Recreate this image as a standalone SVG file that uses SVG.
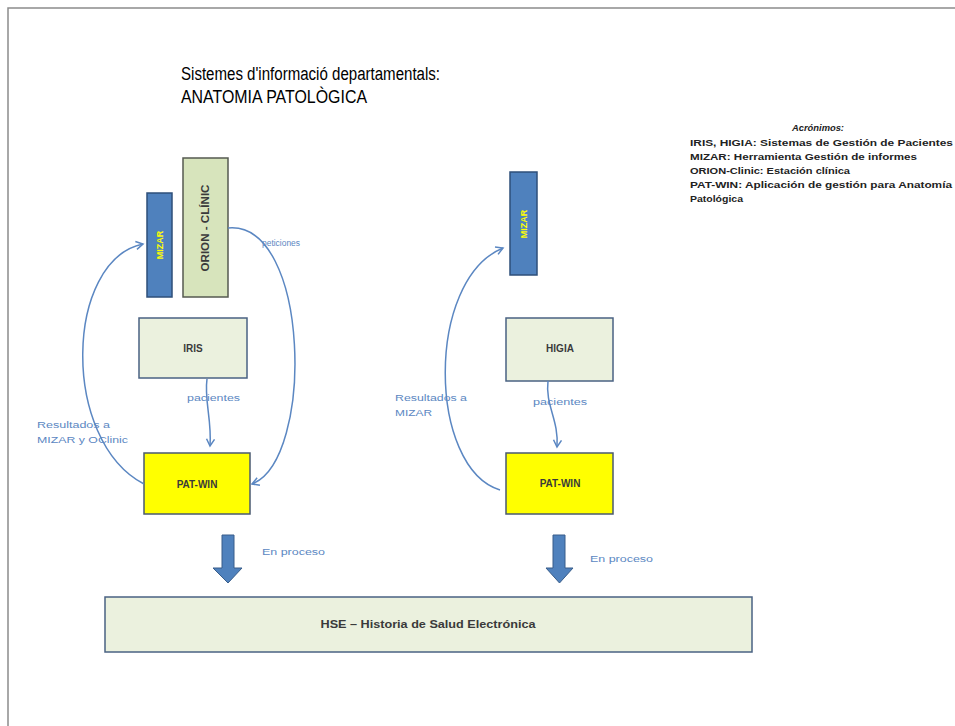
<svg xmlns="http://www.w3.org/2000/svg" width="955" height="726" viewBox="0 0 955 726">
<style>
.frame{stroke:#8c8c8c;stroke-width:1.5;fill:none}
.title{font-family:"Liberation Sans",Arial,sans-serif;font-size:18px;fill:#000}
.mizar rect{fill:#4f81bd;stroke:#2e4f7a;stroke-width:1.5}
.mizar text{font-family:"Liberation Sans",Arial,sans-serif;font-weight:bold;font-size:9px;fill:#ffff00}
.orion rect{fill:#d7e4bc;stroke:#555a50;stroke-width:1.5}
.box rect{fill:#ebf1de;stroke:#4a6283;stroke-width:1.5}
.pat rect{fill:#ffff00;stroke:#4a5a70;stroke-width:1.5}
.lbl{font-family:"Liberation Sans",Arial,sans-serif;font-weight:bold;font-size:10px;fill:#3a3a3a}
.conn{fill:none;stroke:#5b87c2;stroke-width:1.5}
.clbl{font-family:"Liberation Sans",Arial,sans-serif;font-size:8.5px;fill:#5b87c2}
.blk{fill:#4f81bd;stroke:#385d8a;stroke-width:1}
.acr{font-family:"Liberation Sans",Arial,sans-serif;font-weight:bold;font-size:9px;fill:#222}
</style>
<defs>
<marker id="ah" markerUnits="userSpaceOnUse" markerWidth="12" markerHeight="12" refX="8" refY="5" orient="auto">
<path d="M1,1 L8,5 L1,9" fill="none" stroke="#5b87c2" stroke-width="1.5"/>
</marker>
</defs>
<rect width="955" height="726" fill="#fff"/>
<path class="frame" d="M8,726 L8,8 L955,8"/>
<g id="title">
<text class="title" x="181" y="80" textLength="259" lengthAdjust="spacingAndGlyphs">Sistemes d'informació departamentals:</text>
<text class="title" x="181" y="103" textLength="186" lengthAdjust="spacingAndGlyphs">ANATOMIA PATOLÒGICA</text>
</g>
<g id="legend">
<text class="acr" x="792" y="131" font-style="italic" font-weight="normal" textLength="52" lengthAdjust="spacingAndGlyphs">Acrónimos:</text>
<text class="acr" x="690" y="146" textLength="263" lengthAdjust="spacingAndGlyphs">IRIS, HIGIA: Sistemas de Gestión de Pacientes</text>
<text class="acr" x="690" y="160" textLength="227" lengthAdjust="spacingAndGlyphs">MIZAR: Herramienta Gestión de informes</text>
<text class="acr" x="690" y="174" textLength="160" lengthAdjust="spacingAndGlyphs">ORION-Clinic: Estación clínica</text>
<text class="acr" x="690" y="188" textLength="262" lengthAdjust="spacingAndGlyphs">PAT-WIN: Aplicación de gestión para Anatomía</text>
<text class="acr" x="690" y="202" textLength="53" lengthAdjust="spacingAndGlyphs">Patológica</text>
</g>
<g id="mizar-left" class="mizar">
<rect x="147" y="193" width="25" height="104"/>
<text transform="translate(163,245) rotate(-90)" text-anchor="middle">MIZAR</text>
</g>
<g id="orion" class="orion">
<rect x="183" y="158" width="45" height="139"/>
<text class="lbl" transform="translate(209,228) rotate(-90)" text-anchor="middle" textLength="87" lengthAdjust="spacingAndGlyphs">ORION - CLÍNIC</text>
</g>
<g id="iris" class="box">
<rect x="139" y="318" width="108" height="60"/>
<text class="lbl" x="193" y="352" text-anchor="middle">IRIS</text>
</g>
<g id="patwin-left" class="pat">
<rect x="144" y="453" width="106" height="61"/>
<text class="lbl" x="197" y="488" text-anchor="middle">PAT-WIN</text>
</g>
<g id="mizar-right" class="mizar">
<rect x="510" y="172" width="27" height="103"/>
<text transform="translate(527,224) rotate(-90)" text-anchor="middle">MIZAR</text>
</g>
<g id="higia" class="box">
<rect x="506" y="318" width="107" height="63"/>
<text class="lbl" x="560" y="352" text-anchor="middle">HIGIA</text>
</g>
<g id="patwin-right" class="pat">
<rect x="506" y="453" width="107" height="61"/>
<text class="lbl" x="560" y="487" text-anchor="middle">PAT-WIN</text>
</g>
<g id="hse" class="box">
<rect x="105" y="597" width="647" height="55"/>
<text class="lbl" x="428" y="628" text-anchor="middle" textLength="215" lengthAdjust="spacingAndGlyphs">HSE – Historia de Salud Electrónica</text>
</g>
<g id="connectors">
<path class="conn" d="M144,484 C60,440 65,260 143,244" marker-end="url(#ah)"/>
<path class="conn" d="M228,228 C310,220 315,460 252,484" marker-end="url(#ah)"/>
<path class="conn" d="M207,379 C204,400 212,420 210,446" marker-end="url(#ah)"/>
<path class="conn" d="M500,490 C428,468 425,280 503,248" marker-end="url(#ah)"/>
<path class="conn" d="M548,381 C545,405 559,420 557,447" marker-end="url(#ah)"/>
<path class="blk" d="M222,535 H234 V568 H242 L228,583 L213,568 H222 Z"/>
<path class="blk" d="M553,535 H565 V568 H573 L559.5,583 L546,568 H553 Z"/>
<text class="clbl" x="262" y="246" textLength="38" lengthAdjust="spacingAndGlyphs">peticiones</text>
<text class="clbl" x="187" y="401" textLength="53" lengthAdjust="spacingAndGlyphs">pacientes</text>
<text class="clbl" x="37" y="428" textLength="73" lengthAdjust="spacingAndGlyphs">Resultados a</text>
<text class="clbl" x="37" y="443" textLength="91" lengthAdjust="spacingAndGlyphs">MIZAR y OClinic</text>
<text class="clbl" x="395" y="401" textLength="72" lengthAdjust="spacingAndGlyphs">Resultados a</text>
<text class="clbl" x="395" y="416" textLength="37" lengthAdjust="spacingAndGlyphs">MIZAR</text>
<text class="clbl" x="533" y="405" textLength="54" lengthAdjust="spacingAndGlyphs">pacientes</text>
<text class="clbl" x="262" y="555" textLength="63" lengthAdjust="spacingAndGlyphs">En proceso</text>
<text class="clbl" x="590" y="562" textLength="63" lengthAdjust="spacingAndGlyphs">En proceso</text>
</g>
</svg>
